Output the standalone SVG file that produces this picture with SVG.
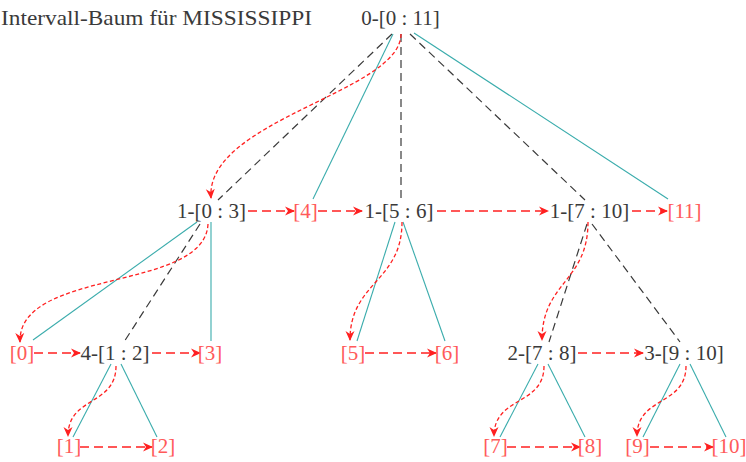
<svg xmlns="http://www.w3.org/2000/svg" width="746" height="462" viewBox="0 0 746 462">
<style>
text{font-family:"Liberation Serif","Times New Roman",serif;font-size:21px;text-anchor:middle}
.n{fill:#3a3a3a}
.l{fill:#ff5a5a}
.t{fill:none;stroke:#3a3a3a;stroke-width:1.2;stroke-dasharray:8 5}
.c{fill:none;stroke:#3aacac;stroke-width:1.1}
.h{fill:none;stroke:#ff2020;stroke-width:1.6;stroke-dasharray:9 5;marker-end:url(#a)}
.p{fill:none;stroke:#ff2020;stroke-width:1.3;stroke-dasharray:4 2.5;marker-end:url(#a)}
</style>
<defs>
<marker id="a" viewBox="0 0 10 10" refX="9" refY="5" markerWidth="10" markerHeight="10" markerUnits="userSpaceOnUse" orient="auto">
<path d="M0,0.5 L10,5 L0,9.5 L3,5 Z" fill="#ff2020"/>
</marker>
</defs>
<rect width="746" height="462" fill="#fff"/>
<text class="n" x="1" y="25" style="text-anchor:start;font-size:22px" textLength="311" lengthAdjust="spacingAndGlyphs">Intervall-Baum für MISSISSIPPI</text>
<g id="connectors">
<line class="t" x1="392" y1="34" x2="218" y2="200"/>
<line class="t" x1="401" y1="34" x2="401" y2="200"/>
<line class="t" x1="410" y1="34" x2="585" y2="200"/>
<line class="t" x1="200" y1="224" x2="124" y2="342"/>
<line class="t" x1="587" y1="224" x2="549" y2="342"/>
<line class="t" x1="592" y1="224" x2="680" y2="342"/>
<line class="c" x1="393" y1="34" x2="313" y2="199"/>
<line class="c" x1="414" y1="33" x2="668" y2="199"/>
<line class="c" x1="197" y1="222" x2="33" y2="340"/>
<line class="c" x1="211" y1="222" x2="211" y2="341"/>
<line class="c" x1="395" y1="222" x2="357" y2="341"/>
<line class="c" x1="403" y1="222" x2="445" y2="341"/>
<line class="c" x1="111" y1="364" x2="73" y2="437"/>
<line class="c" x1="121" y1="364" x2="157" y2="437"/>
<line class="c" x1="538" y1="364" x2="500" y2="437"/>
<line class="c" x1="548" y1="364" x2="585" y2="437"/>
<line class="c" x1="680" y1="364" x2="643" y2="437"/>
<line class="c" x1="690" y1="364" x2="726" y2="437"/>
<line class="h" x1="248" y1="211" x2="294" y2="211"/>
<line class="h" x1="318" y1="211" x2="362" y2="211"/>
<line class="h" x1="437" y1="211" x2="548" y2="211"/>
<line class="h" x1="632" y1="211" x2="667" y2="211"/>
<line class="h" x1="34" y1="353" x2="80" y2="353"/>
<line class="h" x1="152" y1="353" x2="200" y2="353"/>
<line class="h" x1="365" y1="353" x2="436" y2="353"/>
<line class="h" x1="578" y1="353" x2="643" y2="353"/>
<line class="h" x1="80" y1="447" x2="152" y2="447"/>
<line class="h" x1="507" y1="447" x2="580" y2="447"/>
<line class="h" x1="650" y1="447" x2="713" y2="447"/>
<path class="p" d="M401,34 C401,92 205,120 211,198"/>
<path class="p" d="M208,224 C205,292 18,268 20,342"/>
<path class="p" d="M402,222 C402,282 350,282 350,340"/>
<path class="p" d="M588,222 C588,282 542,282 542,340"/>
<path class="p" d="M116,366 C116,406 68,396 68,436"/>
<path class="p" d="M544,366 C544,406 494,396 494,436"/>
<path class="p" d="M686,366 C686,406 637,396 637,436"/>
</g>
<g id="n0"><text class="n" x="400.5" y="25">0-[0 : 11]</text></g>
<g id="n1"><text class="n" x="211.5" y="218">1-[0 : 3]</text></g>
<g id="l4"><text class="l" x="305.5" y="218">[4]</text></g>
<g id="n2"><text class="n" x="399" y="218">1-[5 : 6]</text></g>
<g id="n3"><text class="n" x="589.5" y="218">1-[7 : 10]</text></g>
<g id="l11"><text class="l" x="684.5" y="218">[11]</text></g>
<g id="l0"><text class="l" x="22" y="360">[0]</text></g>
<g id="n4"><text class="n" x="115" y="360">4-[1 : 2]</text></g>
<g id="l3"><text class="l" x="210" y="360">[3]</text></g>
<g id="l5"><text class="l" x="353" y="360">[5]</text></g>
<g id="l6"><text class="l" x="447" y="360">[6]</text></g>
<g id="n5"><text class="n" x="542" y="360">2-[7 : 8]</text></g>
<g id="n6"><text class="n" x="684" y="360">3-[9 : 10]</text></g>
<g id="l1"><text class="l" x="69" y="453">[1]</text></g>
<g id="l2"><text class="l" x="163" y="453">[2]</text></g>
<g id="l7"><text class="l" x="495.5" y="453">[7]</text></g>
<g id="l8"><text class="l" x="590" y="453">[8]</text></g>
<g id="l9"><text class="l" x="637.5" y="453">[9]</text></g>
<g id="l10"><text class="l" x="729" y="453">[10]</text></g>
</svg>
